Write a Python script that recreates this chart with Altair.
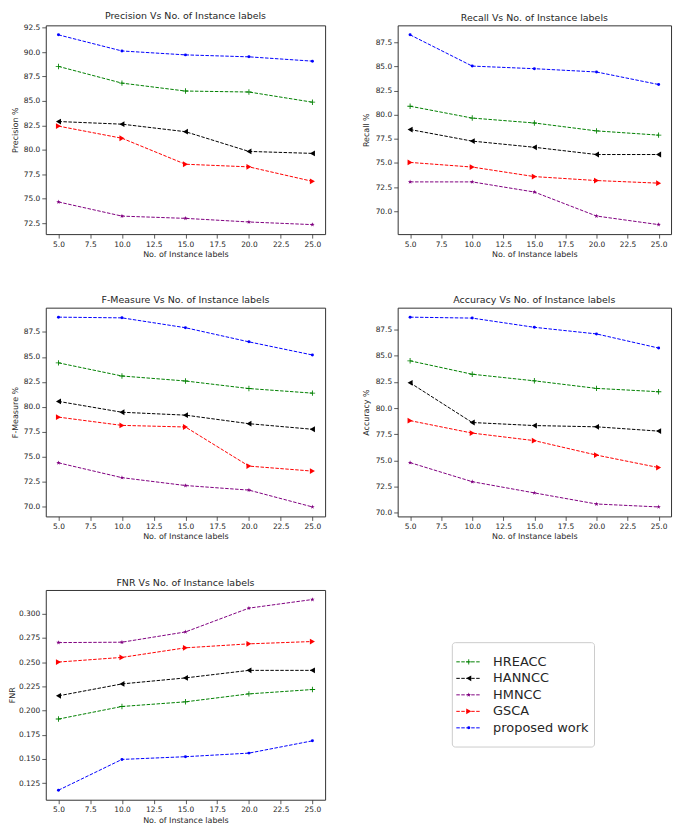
import altair as alt
import pandas as pd

# ---------------- data ----------------
x_vals = [5, 10, 15, 20, 25]
x_ticks = [5, 7.5, 10, 12.5, 15, 17.5, 20, 22.5, 25]
methods = ["HREACC", "HANNCC", "HMNCC", "GSCA", "proposed work"]

precision = {
    "HREACC": [88.53, 86.82, 86.01, 85.91, 84.87],
    "HANNCC": [82.89, 82.62, 81.85, 79.83, 79.63],
    "HMNCC": [74.66, 73.21, 72.98, 72.61, 72.34],
    "GSCA": [82.42, 81.18, 78.52, 78.25, 76.77],
    "proposed work": [91.76, 90.11, 89.71, 89.51, 89.07],
}
recall = {
    "HREACC": [80.88, 79.65, 79.14, 78.32, 77.88],
    "HANNCC": [78.46, 77.26, 76.62, 75.87, 75.87],
    "HMNCC": [73.03, 73.03, 71.98, 69.49, 68.60],
    "GSCA": [75.05, 74.57, 73.58, 73.17, 72.90],
    "proposed work": [88.28, 85.04, 84.77, 84.43, 83.13],
}
fmeasure = {
    "HREACC": [84.40, 83.08, 82.58, 81.82, 81.36],
    "HANNCC": [80.53, 79.44, 79.15, 78.29, 77.73],
    "HMNCC": [74.36, 72.87, 72.08, 71.62, 69.93],
    "GSCA": [78.95, 78.12, 77.96, 74.03, 73.53],
    "proposed work": [88.99, 88.92, 87.93, 86.51, 85.19],
}
accuracy = {
    "HREACC": [84.52, 83.24, 82.61, 81.89, 81.57],
    "HANNCC": [82.42, 78.63, 78.34, 78.22, 77.81],
    "HMNCC": [74.80, 72.98, 71.91, 70.85, 70.57],
    "GSCA": [78.81, 77.62, 76.90, 75.52, 74.33],
    "proposed work": [88.69, 88.60, 87.72, 87.09, 85.74],
}
fnr = {
    "HREACC": [0.1912, 0.2042, 0.2090, 0.2172, 0.2217],
    "HANNCC": [0.2152, 0.2275, 0.2337, 0.2415, 0.2415],
    "HMNCC": [0.2702, 0.2706, 0.2812, 0.3058, 0.3147],
    "GSCA": [0.2501, 0.2549, 0.2648, 0.2689, 0.2713],
    "proposed work": [0.1177, 0.1495, 0.1523, 0.1560, 0.1687],
}

precision_ticks = [72.5, 75.0, 77.5, 80.0, 82.5, 85.0, 87.5, 90.0, 92.5]
recall_ticks = [70.0, 72.5, 75.0, 77.5, 80.0, 82.5, 85.0, 87.5]
fmeasure_ticks = [70.0, 72.5, 75.0, 77.5, 80.0, 82.5, 85.0, 87.5]
accuracy_ticks = [70.0, 72.5, 75.0, 77.5, 80.0, 82.5, 85.0, 87.5]
fnr_ticks = [0.125, 0.150, 0.175, 0.200, 0.225, 0.250, 0.275, 0.300]

# ---------------- styles ----------------
colors = ["#008000", "#000000", "#800080", "#ff0000", "#0000ff"]
plus_path = "M-1,-0.16H1V0.16H-1Z M-0.16,-1H0.16V1H-0.16Z"
star_path = ("M0,-1L0.235,-0.324L0.951,-0.309L0.380,0.124L0.588,0.809L0,0.4"
             "L-0.588,0.809L-0.380,0.124L-0.951,-0.309L-0.235,-0.324Z")
shapes = [plus_path, "triangle-left", star_path, "triangle-right", "circle"]
sizes = [30, 34, 22, 34, 9]
FONT = "DejaVu Sans"
TXT = "#262626"

color_enc = alt.Color("method:N", scale=alt.Scale(domain=methods, range=colors), legend=None)


def make_df(series):
    rows = []
    for m in methods:
        for xv, v in zip(x_vals, series[m]):
            rows.append({"method": m, "x": xv, "value": v})
    return pd.DataFrame(rows)


def marker_layers(data, x, y):
    layers = []
    for m, c, s, sz in zip(methods, colors, shapes, sizes):
        layers.append(
            alt.Chart(data).transform_filter(alt.datum.method == m).mark_point(
                filled=True, opacity=1, strokeWidth=0, shape=s, size=sz, color=c
            ).encode(x=x, y=y)
        )
    return layers


def panel(series, ticks, fmt, ytitle, title, ext, tpad, w, h):
    d = make_df(series)
    lo, hi = d["value"].min(), d["value"].max()
    pad = 0.05 * (hi - lo)
    xlo, xhi = min(x_vals), max(x_vals)
    xpad = 0.05 * (xhi - xlo)
    x = alt.X("x:Q",
              scale=alt.Scale(domain=[xlo - xpad, xhi + xpad], nice=False, zero=False),
              axis=alt.Axis(values=x_ticks, format=".1f", title="No. of Instance labels",
                            titlePadding=3, labelFlush=False))
    y = alt.Y("value:Q",
              scale=alt.Scale(domain=[lo - pad, hi + pad], nice=False, zero=False),
              axis=alt.Axis(values=ticks, format=fmt, title=ytitle,
                            minExtent=ext, maxExtent=ext, titlePadding=tpad))
    line = alt.Chart(d).mark_line(strokeDash=[3.5, 1.5], strokeWidth=1).encode(
        x=x, y=y, color=color_enc)
    return alt.layer(line, *marker_layers(d, x, y)).properties(width=w, height=h, title=title)


W1, W2 = 281, 275
H1, H3 = 210, 211

p1 = panel(precision, precision_ticks, ".1f", "Precision %",
           "Precision Vs No. of Instance labels", 24.5, 2, W1, H1)
p2 = panel(recall, recall_ticks, ".1f", "Recall %",
           "Recall Vs No. of Instance labels", 24.5, 3, W2, H1)
p3 = panel(fmeasure, fmeasure_ticks, ".1f", "F-Measure %",
           "F-Measure Vs No. of Instance labels", 24.5, 2, W1, H1)
p4 = panel(accuracy, accuracy_ticks, ".1f", "Accuracy %",
           "Accuracy Vs No. of Instance labels", 24.5, 3, W2, H1)
p5 = panel(fnr, fnr_ticks, ".3f", "FNR",
           "FNR Vs No. of Instance labels", 27.5, 1.5, W1, H3)

# ---------------- legend panel ----------------
leg_df = pd.DataFrame({"method": methods})
leg_y = alt.Y("method:N", sort=methods,
              scale=alt.Scale(type="point", domain=methods, range=[64, 147]), axis=None)
box = alt.Chart(pd.DataFrame({"b": [0]})).mark_rect(
    fill="white", stroke="#cccccc", strokeWidth=1, cornerRadius=3).encode(
    x=alt.value(55), x2=alt.value(198), y=alt.value(53), y2=alt.value(158))
leg_line = alt.Chart(leg_df).mark_rule(strokeDash=[3.5, 1.5], strokeWidth=1).encode(
    x=alt.value(59), x2=alt.value(84), y=leg_y, color=color_enc)
leg_txt = alt.Chart(leg_df).mark_text(
    align="left", baseline="middle", font=FONT, fontSize=13, color=TXT).encode(
    x=alt.value(96), y=leg_y, text="method:N")
legend = alt.layer(box, leg_line, *marker_layers(leg_df, alt.value(71.5), leg_y),
                   leg_txt).properties(
    width=W2, height=H3, view=alt.ViewBackground(strokeOpacity=0))

chart = alt.concat(p1, p2, p3, p4, p5, legend, columns=2,
                   spacing={"row": 74, "column": 73},
                   bounds="flush", align="each").properties(
    padding={"left": 0, "top": 0, "right": 5, "bottom": 5}
).configure_view(stroke="#333333", strokeWidth=1).configure_axis(
    labelFont=FONT, labelFontSize=7.5, labelColor=TXT,
    titleFont=FONT, titleFontSize=8, titleFontWeight="normal", titleColor=TXT,
    tickColor="#333333", tickSize=4, tickWidth=0.8, labelPadding=2,
    domain=False, grid=False
).configure_title(font=FONT, fontSize=9.5, fontWeight="normal", offset=3, color=TXT)

chart.save("out.html", embed_options={"renderer": "svg", "actions": False})
